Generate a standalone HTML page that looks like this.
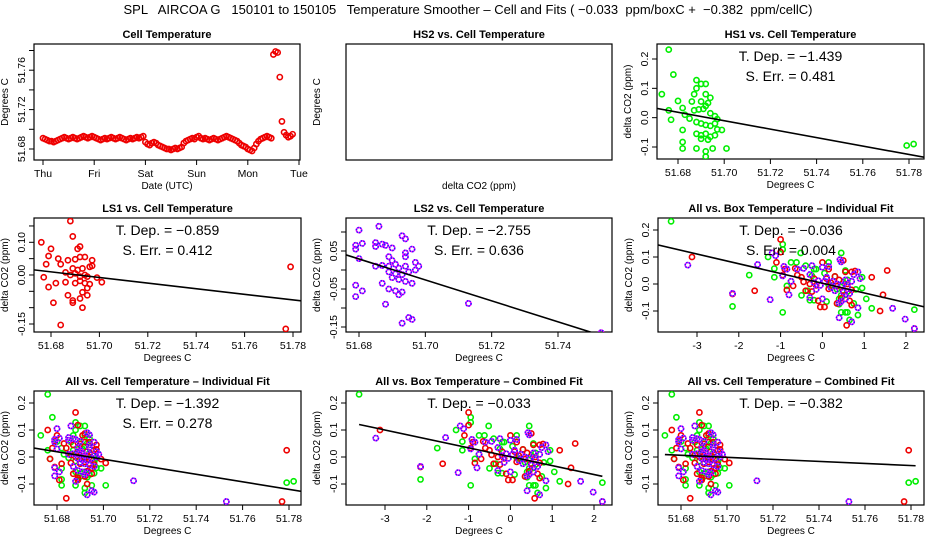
<!DOCTYPE html>
<html><head><meta charset="utf-8">
<style>
html,body{margin:0;padding:0;background:#fff;}
svg{display:block;font-family:"Liberation Sans",sans-serif;}
</style></head>
<body>
<svg id="chart" width="936" height="540" viewBox="0 0 936 540" xmlns="http://www.w3.org/2000/svg">
<rect width="936" height="540" fill="#fff"/>
<text x="468" y="14" font-size="13" text-anchor="middle" xml:space="preserve">SPL   AIRCOA G   150101 to 150105   Temperature Smoother – Cell and Fits ( −0.033  ppm/boxC +  −0.382  ppm/cellC)</text>
</svg>
<script>
// ---- Cell temperature time series (hourly, starting Thu 00 UTC) ----
const cellTempThu = [51.691,51.690,51.689,51.688,51.688,51.687,51.688,51.689,51.690,51.691,51.692,51.691,51.690,51.691,51.692,51.691,51.690,51.691,51.692,51.693,51.692,51.691,51.692,51.693];
const cellTempFri = [51.692,51.691,51.690,51.689,51.690,51.691,51.690,51.691,51.692,51.691,51.690,51.691,51.692,51.691,51.690,51.689,51.690,51.691,51.690,51.691,51.692,51.691,51.692,51.693];
const cellTempSat = [51.687,51.685,51.684,51.686,51.687,51.686,51.684,51.683,51.682,51.681,51.680,51.680,51.679,51.680,51.681,51.680,51.681,51.682,51.686,51.688,51.689,51.690,51.691,51.690];
const cellTempSun = [51.692,51.693,51.691,51.690,51.691,51.690,51.689,51.690,51.691,51.690,51.689,51.690,51.691,51.692,51.693,51.692,51.691,51.690,51.689,51.688,51.686,51.684,51.683,51.682];
const cellTempMon = [51.680,51.679,51.678,51.681,51.685,51.688,51.690,51.691,51.692,51.693,51.692,51.691,51.776,51.779,51.778,51.753,51.708,51.697,51.694,51.692,51.693,51.695];
const dayLabels = ["Thu","Fri","Sat","Sun","Mon","Tue"];

// ---- HS1 (green) ----
const hs1Cell = [51.676,51.678,51.673,51.676,51.677,51.680,51.682,51.683,51.685,51.686,51.687,51.688,51.688,51.690,51.692,51.692,51.690,51.694,51.693,51.692,51.687,51.689,51.691,51.694,51.696,51.697,51.688,51.690,51.692,51.694,51.696,51.699,51.697,51.682,51.682,51.682,51.688,51.690,51.692,51.690,51.693,51.694,51.696,51.688,51.692,51.692,51.695,51.701,51.779,51.782];
const hs1Co2 = [0.232,0.147,0.080,0.025,-0.007,0.057,0.033,0.010,-0.003,0.055,0.080,0.128,0.100,0.115,0.115,0.080,0.055,0.068,0.050,0.040,0.025,0.028,0.030,0.015,0.005,-0.005,-0.015,-0.020,-0.025,-0.028,-0.020,-0.042,-0.040,-0.042,-0.083,-0.105,-0.055,-0.060,-0.055,-0.072,-0.075,-0.065,-0.060,-0.105,-0.115,-0.133,-0.105,-0.105,-0.095,-0.090];
const hs1Box = [-3.62,-0.95,-0.62,-1.15,-0.85,-1.15,-1.75,-0.75,0.15,-0.15,-0.75,-0.95,-1.3,-0.52,0.45,0.15,-0.2,-0.4,0.55,0.05,0.95,0.3,-0.25,0.6,0.5,0.2,0.95,0.35,-0.35,0.6,0.8,-0.5,0.55,0.45,-2.15,-0.95,1.05,-0.3,0.4,0.75,0.4,0.1,-0.2,0.55,0.85,0.65,0.6,0.45,2.2,1.18];

// ---- LS1 (red) ----
const ls1Cell = [51.676,51.680,51.679,51.678,51.677,51.679,51.682,51.681,51.684,51.683,51.684,51.687,51.688,51.689,51.691,51.692,51.690,51.692,51.694,51.697,51.696,51.697,51.689,51.691,51.693,51.686,51.688,51.690,51.692,51.694,51.695,51.699,51.701,51.686,51.690,51.692,51.694,51.696,51.695,51.693,51.687,51.695,51.692,51.689,51.689,51.693,51.777,51.779];
const ls1Co2 = [0.100,0.080,0.058,0.033,-0.007,-0.037,-0.025,-0.085,-0.153,0.050,0.033,0.045,0.165,0.118,0.080,0.087,0.048,0.055,0.055,0.045,0.025,0.028,0.020,0.015,0.020,0.008,0.000,0.005,-0.005,0.000,-0.005,-0.008,-0.022,-0.022,-0.025,-0.018,-0.025,-0.028,-0.040,-0.053,-0.062,-0.062,-0.072,-0.078,-0.085,-0.100,-0.165,0.025];
const ls1Box = [-3.12,0.0,-0.65,-0.95,-0.7,-2.15,-1.62,0.05,0.58,1.55,-0.6,0.7,-1.0,-1.0,-1.1,0.5,0.78,-0.9,0.15,0.55,1.18,0.3,-0.2,0.4,0.1,-0.45,-0.3,0.2,0.45,0.6,-0.15,0.35,0.7,-0.85,-0.4,0.15,0.5,-0.25,1.45,0.45,-0.1,0.65,0.35,0.7,-0.05,1.38,2.2,-0.5];

// ---- LS2 (purple) ----
const ls2Cell = [51.680,51.686,51.679,51.679,51.681,51.685,51.685,51.687,51.688,51.690,51.693,51.694,51.694,51.696,51.694,51.689,51.690,51.680,51.685,51.687,51.689,51.691,51.692,51.694,51.697,51.698,51.697,51.689,51.691,51.693,51.695,51.690,51.692,51.694,51.696,51.687,51.689,51.691,51.692,51.693,51.679,51.679,51.681,51.688,51.695,51.696,51.693,51.713,51.753];
const ls2Co2 = [0.105,0.115,0.065,0.055,0.070,0.072,0.062,0.068,0.065,0.058,0.090,0.082,0.045,0.055,0.035,0.035,0.025,0.030,0.010,0.012,0.010,0.015,0.005,0.010,0.020,0.010,0.000,-0.005,-0.010,-0.012,-0.005,-0.020,-0.025,-0.030,-0.035,-0.035,-0.050,-0.055,-0.065,-0.058,-0.040,-0.070,-0.055,-0.090,-0.125,-0.130,-0.140,-0.088,-0.165];
const ls2Box = [-1.12,-1.2,-0.92,-0.6,-3.22,-1.55,0.0,-0.25,0.15,-0.45,0.42,0.45,0.85,-0.85,0.75,-0.3,0.1,-0.95,-0.75,-0.1,0.25,0.55,-0.2,0.7,0.9,0.05,0.35,-0.05,0.6,0.2,0.45,-0.15,0.3,0.5,-2.15,0.65,-0.3,0.55,0.45,-1.25,-0.8,0.4,0.0,1.68,0.4,1.98,0.7,0.85,2.2];

// ---- Fits: slope and value at reference (51.69 C for cell, 0 C for box) ----
const fitSlopes = {hs1:-1.439, ls1:-0.859, ls2:-2.755, boxInd:-0.036, cellInd:-1.392, boxComb:-0.033, cellComb:-0.382};
const fitAnchors = {hs1:0.004, ls1:0.001, ls2:0.0014, boxInd:0.003, cellInd:0.0056, boxComb:0.001, cellComb:0.0027};
const fitErrs = {hs1:"0.481", ls1:"0.412", ls2:"0.636", boxInd:"0.004", cellInd:"0.278"};

const cellXTicks = [51.68,51.70,51.72,51.74,51.76,51.78];
const ls2XTicks = [51.68,51.70,51.72,51.74];
const boxXTicks = [-3,-2,-1,0,1,2];
const co2Ticks = [-0.1,0.0,0.1,0.2];
const ls1YTicks = [-0.15,-0.10,-0.05,0.00,0.05,0.10,0.15];
const ls1YLabels = ["-0.15","","","0.00","","0.10",""];
const ls2YTicks = [-0.15,-0.10,-0.05,0.00,0.05,0.10];
const ls2YLabels = ["-0.15","","-0.05","","0.05",""];
const tempYTicks = [51.68,51.70,51.72,51.74,51.76,51.78];
const tempYLabels = ["51.68","","51.72","","51.76",""];

const svg = document.getElementById('chart');
const NS = "http://www.w3.org/2000/svg";
function mk(tag, attrs, parent){
  const e = document.createElementNS(NS, tag);
  for (const k in attrs) e.setAttribute(k, attrs[k]);
  (parent||svg).appendChild(e);
  return e;
}
function lin(v1,p1,v2,p2){ return v => p1 + (v - v1) * (p2 - p1) / (v2 - v1); }
function fmt(v,d){ const s = Math.abs(v).toFixed(d); return (v < 0 ? "\u2212" : "") + s; }

function makePanel(name, box, xs, ys, title, xlab, ylab){
  const g = mk('g', {});
  
  
  const r = mk('rect', {x:box[0], y:box[1], width:box[2]-box[0], height:box[3]-box[1], fill:'none', stroke:'#000', 'stroke-width':1.2}, g);
  
  
  const t = mk('text', {x:(box[0]+box[2])/2, y:box[1]-6, 'font-size':11, 'font-weight':'bold', 'text-anchor':'middle'}, g);
  t.textContent = title;
  
  
  const xl = mk('text', {x:(box[0]+box[2])/2, y:box[3]+29, 'font-size':10, 'text-anchor':'middle'}, g);
  xl.textContent = xlab;
  
  
  const yx = box[0]-26, yy = (box[1]+box[3])/2;
  const yl = mk('text', {x:yx, y:yy, 'font-size':10, 'text-anchor':'middle', transform:`rotate(-90 ${yx} ${yy})`}, g);
  yl.textContent = ylab;
  
  
  const X = xs ? lin(xs[0],xs[1],xs[2],xs[3]) : null;
  const Y = ys ? lin(ys[0],ys[1],ys[2],ys[3]) : null;
  const clipId = 'clip-' + name;
  const cp = mk('clipPath', {id:clipId}, g);
  mk('rect', {x:box[0], y:box[1], width:box[2]-box[0], height:box[3]-box[1]}, cp);
  return {g, box, X, Y, clipId};
}
function xAxis(p, ticks, labels){
  const b = p.box;
  const pos = ticks.map(p.X);
  const ax = mk('g', {}, p.g);
  
  
  ticks.forEach((v,i) => {
    const x = pos[i];
    mk('line', {x1:x, x2:x, y1:b[3], y2:b[3]+5, stroke:'#000'}, ax);
    const tx = mk('text', {x:x, y:b[3]+17, 'font-size':10.5, 'text-anchor':'middle'}, ax);
    tx.textContent = labels[i];
    
    
  });
}
function yAxis(p, ticks, labels){
  const b = p.box;
  const ax = mk('g', {}, p.g);
  
  
  ticks.forEach((v,i) => {
    const y = p.Y(v);
    mk('line', {x1:b[0]-5, x2:b[0], y1:y, y2:y, stroke:'#000'}, ax);
    if (labels[i]) {
      const lx = b[0]-9;
      const tx = mk('text', {x:lx, y:y, 'font-size':10.5, 'text-anchor':'middle', transform:`rotate(-90 ${lx} ${y})`}, ax);
      tx.textContent = labels[i];
      
      
    }
  });
}
function pts(p, xv, yv, kind){
  const grp = mk('g', {'clip-path':`url(#${p.clipId})`}, p.g);
  
  
  xv.forEach((xx,i) => {
    const cx = p.X(xx), cy = p.Y(yv[i]);
    if (kind === 'ls2') {
      const c = mk('circle', {cx, cy, r:2.6, fill:'none', stroke:'#ff00ff', 'stroke-width':1.6}, grp);
      
      
      mk('circle', {cx, cy, r:2.6, fill:'none', stroke:'#2020ff', 'stroke-width':1.6, 'stroke-dasharray':'1.3 1.3'}, grp);
    } else {
      const col = kind === 'hs1' ? '#00ee00' : '#ee0000';
      const c = mk('circle', {cx, cy, r:2.6, fill:'none', stroke:col, 'stroke-width':1.6}, grp);
      
      
    }
  });
}
function fitLine(p, key, ref, x0, x1){
  const s = fitSlopes[key], a = fitAnchors[key];
  const l = mk('line', {x1:p.X(x0), y1:p.Y(a + s*(x0-ref)), x2:p.X(x1), y2:p.Y(a + s*(x1-ref)), stroke:'#000', 'stroke-width':1.6, 'clip-path':`url(#${p.clipId})`}, p.g);
  
  
}
function stats(p, key){
  const cx = (p.box[0]+p.box[2])/2;
  const t1 = mk('text', {x:cx, y:p.box[1]+17, 'font-size':14, 'text-anchor':'middle', 'xml:space':'preserve'}, p.g);
  t1.textContent = "T. Dep. =  " + fmt(fitSlopes[key],3);
  
  
  if (fitErrs[key]) {
    const t2 = mk('text', {x:cx, y:p.box[1]+37, 'font-size':14, 'text-anchor':'middle', 'xml:space':'preserve'}, p.g);
    t2.textContent = "S. Err. =  " + fitErrs[key];
    
    
  }
}
const minOf = a => Math.min(...a), maxOf = a => Math.max(...a);
const cellFmt = ["51.68","51.70","51.72","51.74","51.76","51.78"];
const co2Fmt = ["-0.1","0.0","0.1","0.2"];
const boxFmt = ["-3","-2","-1","0","1","2"];

// Panel 1: cell temperature time series
(function(){
  const p = makePanel('cell-temperature-panel', [34,44,300,160], [0,43,5,299], [51.68,149,51.76,70.2], 'Cell Temperature', 'Date (UTC)', 'Degrees C');
  xAxis(p, [0,1,2,3,4,5], dayLabels);
  yAxis(p, tempYTicks, tempYLabels);
  const series = [cellTempThu, cellTempFri, cellTempSat, cellTempSun, cellTempMon];
  const xv = [], yv = [];
  series.forEach((arr,d) => arr.forEach((v,h) => { xv.push(d + h/24); yv.push(v); }));
  pts(p, xv, yv, 'ls1');
})();
// Panel 2: HS2 empty
makePanel('hs2-panel', [346,44,612,160], null, null, 'HS2 vs. Cell Temperature', 'delta CO2 (ppm)', 'Degrees C');
// Panel 3: HS1
(function(){
  const p = makePanel('hs1-panel', [657,44,924,159], [51.68,678,51.78,909], [0.2,59,-0.1,147], 'HS1 vs. Cell Temperature', 'Degrees C', 'delta CO2 (ppm)');
  xAxis(p, cellXTicks, cellFmt); yAxis(p, co2Ticks, co2Fmt);
  pts(p, hs1Cell, hs1Co2, 'hs1');
  fitLine(p, 'hs1', 51.69, 51.66, 51.79); stats(p, 'hs1');
})();
// Panel 4: LS1
(function(){
  const p = makePanel('ls1-panel', [34,218,301,332], [51.68,51,51.78,293], [0.10,242.3,-0.15,324], 'LS1 vs. Cell Temperature', 'Degrees C', 'delta CO2 (ppm)');
  xAxis(p, cellXTicks, cellFmt); yAxis(p, ls1YTicks, ls1YLabels);
  pts(p, ls1Cell, ls1Co2, 'ls1');
  fitLine(p, 'ls1', 51.69, 51.66, 51.79); stats(p, 'ls1');
})();
// Panel 5: LS2
(function(){
  const p = makePanel('ls2-panel', [346,218,612,332], [51.68,359,51.74,558], [0.05,251,-0.15,327], 'LS2 vs. Cell Temperature', 'Degrees C', 'delta CO2 (ppm)');
  xAxis(p, ls2XTicks, ["51.68","51.70","51.72","51.74"]); yAxis(p, ls2YTicks, ls2YLabels);
  pts(p, ls2Cell, ls2Co2, 'ls2');
  fitLine(p, 'ls2', 51.69, 51.66, 51.77); stats(p, 'ls2');
})();
// Panel 6: All vs box, individual
(function(){
  const p = makePanel('all-box-individual-panel', [658,218,924,332], [-3,697,2,906], [0.2,230,-0.1,311], 'All vs. Box Temperature \u2013 Individual Fit', 'Degrees C', 'delta CO2 (ppm)');
  xAxis(p, boxXTicks, boxFmt); yAxis(p, co2Ticks, co2Fmt);
  pts(p, hs1Box, hs1Co2, 'hs1'); pts(p, ls1Box, ls1Co2, 'ls1'); pts(p, ls2Box, ls2Co2, 'ls2');
  fitLine(p, 'boxInd', 0, -4, 3); stats(p, 'boxInd');
})();
// Panel 7: All vs cell, individual
(function(){
  const p = makePanel('all-cell-individual-panel', [34,391,301,505], [51.68,57,51.78,289], [0.2,403,-0.1,484], 'All vs. Cell Temperature \u2013 Individual Fit', 'Degrees C', 'delta CO2 (ppm)');
  xAxis(p, cellXTicks, cellFmt); yAxis(p, co2Ticks, co2Fmt);
  pts(p, hs1Cell, hs1Co2, 'hs1'); pts(p, ls1Cell, ls1Co2, 'ls1'); pts(p, ls2Cell, ls2Co2, 'ls2');
  fitLine(p, 'cellInd', 51.69, 51.66, 51.79); stats(p, 'cellInd');
})();
// Panel 8: All vs box, combined
(function(){
  const p = makePanel('all-box-combined-panel', [346,391,612,505], [-3,385,2,594], [0.2,403,-0.1,484], 'All vs. Box Temperature \u2013 Combined Fit', 'Degrees C', 'delta CO2 (ppm)');
  xAxis(p, boxXTicks, boxFmt); yAxis(p, co2Ticks, co2Fmt);
  pts(p, hs1Box, hs1Co2, 'hs1'); pts(p, ls1Box, ls1Co2, 'ls1'); pts(p, ls2Box, ls2Co2, 'ls2');
  const all = hs1Box.concat(ls1Box, ls2Box);
  fitLine(p, 'boxComb', 0, minOf(all), maxOf(all)); stats(p, 'boxComb');
})();
// Panel 9: All vs cell, combined
(function(){
  const p = makePanel('all-cell-combined-panel', [658,391,924,505], [51.68,681,51.78,911], [0.2,403,-0.1,484], 'All vs. Cell Temperature \u2013 Combined Fit', 'Degrees C', 'delta CO2 (ppm)');
  xAxis(p, cellXTicks, cellFmt); yAxis(p, co2Ticks, co2Fmt);
  pts(p, hs1Cell, hs1Co2, 'hs1'); pts(p, ls1Cell, ls1Co2, 'ls1'); pts(p, ls2Cell, ls2Co2, 'ls2');
  const all = hs1Cell.concat(ls1Cell, ls2Cell);
  fitLine(p, 'cellComb', 51.69, minOf(all), maxOf(all)); stats(p, 'cellComb');
})();
</script>
</body></html>
